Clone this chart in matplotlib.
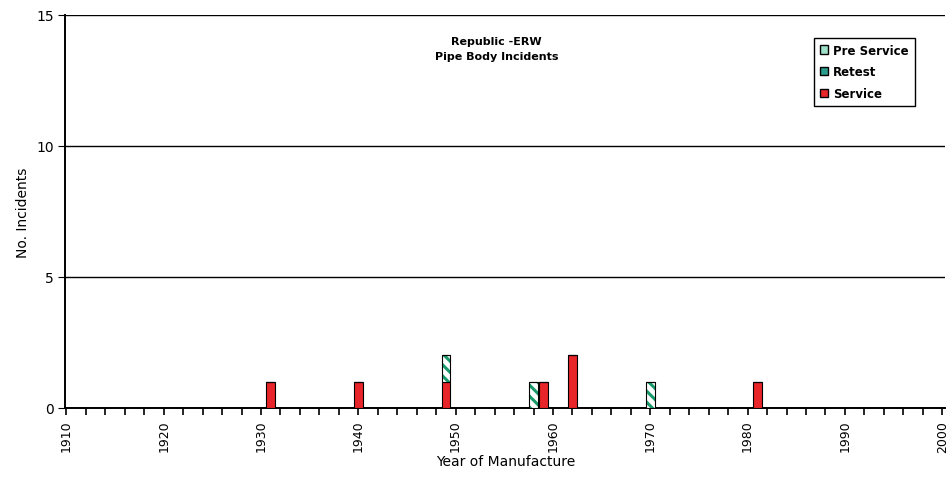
import numpy as np
import matplotlib.pyplot as plt
from matplotlib.patches import Patch

years = [1931, 1940, 1949, 1958, 1959, 1962, 1970, 1981]
service = [1, 1, 1, 0, 1, 2, 0, 1]
retest = [0, 0, 1, 1, 0, 0, 1, 0]
pre_service = [0, 0, 0, 0, 0, 0, 0, 0]

plt.rcParams['hatch.linewidth'] = 2.2

fig = plt.figure(figsize=(9.48, 4.81), dpi=100)
ax = fig.add_axes([0.069, 0.150, 0.928, 0.817])

width = 0.9
ax.bar(years, service, width=width, color='#e8262a', edgecolor='black', linewidth=0.8, zorder=3)
# hatched retest bars: green stripes, then a black outline on top
ax.bar(years, retest, width=width, bottom=service, color='white', edgecolor='#1a9a6a',
       hatch='\\\\\\', linewidth=0, zorder=3)
ax.bar(years, retest, width=width, bottom=service, color='none', edgecolor='black',
       linewidth=0.8, zorder=4)
ax.bar(years, pre_service, width=width, bottom=np.add(service, retest), color='#9ee0c8',
       edgecolor='black', linewidth=0.8, zorder=3)

ax.set_xlim(1909.9, 2000.3)
ax.set_ylim(0, 15)
ax.set_yticks([0, 5, 10, 15])
ax.set_xticks(range(1910, 2001, 10))
ax.set_xticks(range(1910, 2001, 2), minor=True)
ax.tick_params(axis='x', which='both', direction='out', length=5, width=1.2, labelrotation=90, labelsize=9)
ax.tick_params(axis='y', direction='out', length=5, labelsize=10)
ax.grid(axis='y', color='black', linewidth=1.0, zorder=1)
for s in ['top', 'right']:
    ax.spines[s].set_visible(False)
ax.spines['left'].set_linewidth(1.4)
ax.spines['bottom'].set_linewidth(1.4)

ax.set_xlabel('Year of Manufacture', fontsize=10, labelpad=2)
ax.set_ylabel('No. Incidents', fontsize=10)

ax.text(0.49, 0.945, 'Republic -ERW\nPipe Body Incidents', transform=ax.transAxes,
        ha='center', va='top', fontsize=8, fontweight='bold', linespacing=1.6)

handles = [Patch(facecolor='#9ee0c8', edgecolor='black'),
           Patch(facecolor='#2a9d8f', edgecolor='black'),
           Patch(facecolor='#e8262a', edgecolor='black')]
ax.legend(handles, ['Pre Service', 'Retest', 'Service'], loc='upper right',
          bbox_to_anchor=(0.972, 0.957), prop={'weight': 'bold', 'size': 8.5},
          frameon=True, fancybox=False, edgecolor='black', framealpha=1,
          handlelength=0.7, handleheight=0.7, handletextpad=0.4, labelspacing=0.75,
          borderpad=0.5)

fig.savefig('out.png', dpi=100)
